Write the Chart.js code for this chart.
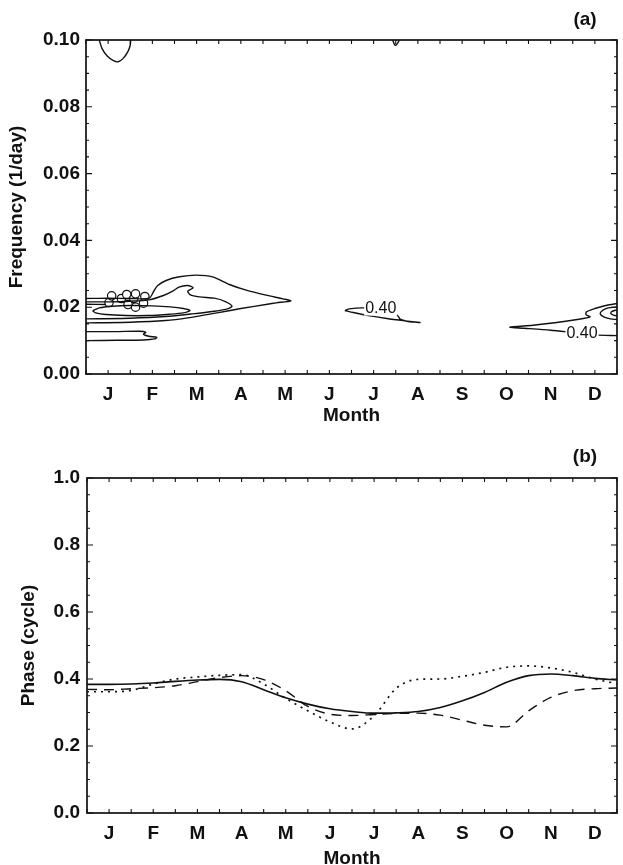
<!DOCTYPE html>
<html>
<head>
<meta charset="utf-8">
<script src="https://cdn.jsdelivr.net/npm/chart.js@4.4.1/dist/chart.umd.min.js"></script>
<style>
  html, body { margin: 0; padding: 0; background: #fff; overflow: hidden; }
  .wrap { position: absolute; left: 0; width: 626px; }
  #wrapA { top: 0; height: 432px; }
  #wrapB { top: 432px; height: 433px; }
</style>
</head>
<body>
<div class="wrap" id="wrapA"><canvas id="chartA" width="626" height="432"></canvas></div>
<div class="wrap" id="wrapB"><canvas id="chartB" width="626" height="433"></canvas></div>
<script>
// Month letters, labelled at mid-month
const monthLetters = ["J", "F", "M", "A", "M", "J", "J", "A", "S", "O", "N", "D"];

// Panel (a): contour lines, [month, frequency]
const topLoopJan = [[0.30, 0.100], [0.36, 0.0975], [0.48, 0.0952], [0.62, 0.0938], [0.73, 0.0935], [0.84, 0.0945], [0.95, 0.0966], [1.0, 0.0985], [1.01, 0.100]];
const topNotchJul = [[6.93, 0.100], [6.97, 0.0987], [7.0, 0.0984], [7.05, 0.0992], [7.08, 0.100]];
const outerWinter = [[0, 0.0226], [0.5, 0.0227], [1.0, 0.0226], [1.43, 0.0227], [1.54, 0.0250], [1.62, 0.0265], [1.81, 0.0280], [2.11, 0.0291], [2.49, 0.0296], [2.86, 0.0291], [3.24, 0.0268], [3.62, 0.0251], [4.07, 0.0236], [4.45, 0.0225], [4.63, 0.0219], [4.3, 0.0213], [4.1, 0.0209], [3.5, 0.0196], [2.96, 0.0183], [2.3, 0.0168], [1.8, 0.0160], [1.0, 0.0155], [0, 0.0153]];
const midWinter = [[0, 0.0216], [0.5, 0.0216], [1.0, 0.0218], [1.43, 0.0222], [1.75, 0.0235], [1.96, 0.0248], [2.1, 0.0260], [2.3, 0.0265], [2.42, 0.0258], [2.3, 0.0248], [2.35, 0.0238], [2.56, 0.0231], [2.9, 0.0227], [3.15, 0.0217], [3.3, 0.0203], [3.2, 0.0195], [2.9, 0.0188], [2.4, 0.0180], [1.8, 0.0172], [1.0, 0.0167], [0, 0.0165]];
const innerStub = [[0, 0.0209], [0.45, 0.0208]];
const coreEllipse = [[0.15, 0.0189], [0.3, 0.0198], [0.6, 0.0203], [1.0, 0.0205], [1.5, 0.0204], [1.9, 0.0201], [2.2, 0.0196], [2.35, 0.0190], [2.2, 0.0183], [1.9, 0.0179], [1.4, 0.0175], [0.9, 0.0175], [0.45, 0.0178], [0.22, 0.0183], [0.15, 0.0189]];
const lowTongue = [[0, 0.0127], [0.7, 0.0127], [1.2, 0.0128], [1.35, 0.0125], [1.3, 0.0119], [1.42, 0.0113], [1.6, 0.0110], [1.55, 0.0105], [1.3, 0.0102], [0.7, 0.0101], [0, 0.0100]];
const midSummer = [[5.85, 0.0190], [5.95, 0.0195], [6.27, 0.0198], [6.6, 0.0192], [7.0, 0.0180], [7.06, 0.0172], [7.1, 0.0164], [7.25, 0.0158], [7.55, 0.0154], [7.22, 0.0159], [6.8, 0.0166], [6.42, 0.0174], [6.04, 0.0184], [5.85, 0.0190]];
const rightOuter = [[12, 0.0211], [11.77, 0.0206], [11.5, 0.0196], [11.31, 0.0186], [11.3, 0.0178], [11.39, 0.0171], [11.1, 0.0163], [10.64, 0.0154], [10.1, 0.0146], [9.58, 0.0140], [9.9, 0.0137], [10.5, 0.0131], [11.0, 0.0124], [11.5, 0.0117], [12, 0.0115]];
const rightMid = [[12, 0.0201], [11.8, 0.0198], [11.68, 0.0191], [11.62, 0.0181], [11.7, 0.0171], [11.85, 0.0165], [12, 0.0163]];
const rightInner = [[12, 0.0192], [11.88, 0.0187], [11.86, 0.0181], [11.92, 0.0176], [12, 0.0174]];
const smallCells = [[0.52, 0.0214], [0.58, 0.0234], [0.8, 0.0226], [0.92, 0.0238], [1.08, 0.0226], [1.12, 0.0240], [1.33, 0.0232], [1.3, 0.0212], [0.95, 0.0208], [1.12, 0.0200]];
const contourLabels = [[6.66, 0.0196, "0.40"], [11.21, 0.0122, "0.40"]];

// Panel (b): phase curves at half-month steps
const halfMonths = [0, 0.5, 1, 1.5, 2, 2.5, 3, 3.5, 4, 4.5, 5, 5.5, 6, 6.5, 7, 7.5, 8, 8.5, 9, 9.5, 10, 10.5, 11, 11.5, 12];
const phaseSolid = [0.384, 0.384, 0.385, 0.388, 0.393, 0.397, 0.399, 0.392, 0.368, 0.344, 0.325, 0.311, 0.303, 0.298, 0.299, 0.303, 0.315, 0.335, 0.360, 0.390, 0.410, 0.415, 0.410, 0.402, 0.397];
const phaseDashed = [0.369, 0.368, 0.371, 0.374, 0.380, 0.392, 0.404, 0.410, 0.398, 0.365, 0.318, 0.295, 0.291, 0.294, 0.297, 0.298, 0.292, 0.277, 0.262, 0.257, 0.305, 0.345, 0.365, 0.371, 0.373];
const phaseDotted = [0.362, 0.362, 0.366, 0.385, 0.400, 0.406, 0.411, 0.413, 0.385, 0.342, 0.305, 0.272, 0.251, 0.290, 0.372, 0.399, 0.400, 0.408, 0.420, 0.435, 0.439, 0.433, 0.420, 0.400, 0.386];

const ink = "#111";
const family = "'Liberation Sans', Arial, Helvetica, sans-serif";

function near(v, step) {
  return Math.abs(v / step - Math.round(v / step)) < 1e-6;
}

const toXY = (pairs) => pairs.map(p => ({ x: p[0], y: p[1] }));

// box around the plot, inward ticks on all four sides, panel tag and contour labels
const framePlugin = {
  id: "frame",
  afterDraw(chart, args, opts) {
    const { ctx, chartArea: a, scales: { x, y } } = chart;
    ctx.save();
    ctx.strokeStyle = ink;
    ctx.lineWidth = 1.7;
    ctx.strokeRect(a.left, a.top, a.right - a.left, a.bottom - a.top);
    ctx.lineWidth = 1.1;
    ctx.beginPath();
    x.ticks.forEach(t => {
      const px = x.getPixelForValue(t.value);
      ctx.moveTo(px, a.bottom); ctx.lineTo(px, a.bottom - 4);
      ctx.moveTo(px, a.top); ctx.lineTo(px, a.top + 4);
    });
    y.ticks.forEach(t => {
      const py = y.getPixelForValue(t.value);
      const len = near(t.value, opts.major) ? 6 : 3;
      ctx.moveTo(a.left, py); ctx.lineTo(a.left + len, py);
      ctx.moveTo(a.right, py); ctx.lineTo(a.right - len, py);
    });
    ctx.stroke();
    ctx.fillStyle = ink;
    ctx.font = "bold 19px " + family;
    ctx.textAlign = "center";
    ctx.textBaseline = "middle";
    ctx.fillText(opts.tag, opts.tagX, opts.tagY);
    (opts.labels || []).forEach(l => {
      const px = x.getPixelForValue(l[0]);
      const py = y.getPixelForValue(l[1]);
      ctx.font = "16px " + family;
      const w = ctx.measureText(l[2]).width;
      ctx.fillStyle = "#fff";
      ctx.fillRect(px - w / 2 - 1, py - 7, w + 2, 14);
      ctx.fillStyle = ink;
      ctx.fillText(l[2], px, py);
    });
    ctx.restore();
  }
};

function monthAxis(bottomSpace, labelPad, titlePad) {
  return {
    type: "linear", min: 0, max: 12,
    afterFit: s => { s.height = bottomSpace; },
    grid: { display: false, drawTicks: false },
    border: { display: false },
    ticks: {
      stepSize: 0.5, autoSkip: false, maxRotation: 0, padding: labelPad,
      color: ink, font: { family: family, size: 19, weight: "bold" },
      callback: v => near(v - 0.5, 1) ? monthLetters[Math.floor(v)] : ""
    },
    title: { display: true, text: "Month", color: ink, font: { family: family, size: 19, weight: "bold", lineHeight: 1 }, padding: { top: 0, bottom: titlePad } }
  };
}

function valueAxis(min, max, step, major, digits, width, labelPad, title, titlePad) {
  return {
    type: "linear", min: min, max: max,
    afterFit: s => { s.width = width; },
    grid: { display: false, drawTicks: false },
    border: { display: false },
    ticks: {
      stepSize: step, autoSkip: false, padding: labelPad,
      color: ink, font: { family: family, size: 19, weight: "bold" },
      callback: v => near(v, major) ? v.toFixed(digits) : ""
    },
    title: { display: true, text: title, color: ink, font: { family: family, size: 19, weight: "bold", lineHeight: 1 }, padding: { top: titlePad, bottom: 0 } }
  };
}

const contourLine = (pairs) => ({
  data: toXY(pairs), showLine: true, borderColor: ink, borderWidth: 1.4,
  pointRadius: 0, tension: 0.25, fill: false
});

new Chart(document.getElementById("chartA"), {
  type: "scatter",
  data: {
    datasets: [
      contourLine(topLoopJan),
      contourLine(topNotchJul),
      contourLine(outerWinter),
      contourLine(midWinter),
      contourLine(innerStub),
      contourLine(coreEllipse),
      contourLine(lowTongue),
      contourLine(midSummer),
      contourLine(rightOuter),
      contourLine(rightMid),
      contourLine(rightInner),
      {
        data: toXY(smallCells), showLine: false, pointRadius: 4.2, pointStyle: "circle",
        pointBackgroundColor: "#fff", pointBorderColor: ink, pointBorderWidth: 1.2
      }
    ]
  },
  options: {
    responsive: false, animation: false,
    layout: { padding: { top: 40, right: 0, bottom: 0, left: 0 } },
    plugins: {
      legend: { display: false }, tooltip: { enabled: false },
      frame: { major: 0.02, tag: "(a)", tagX: 585, tagY: 20, labels: contourLabels }
    },
    scales: {
      x: monthAxis(58, 9, 7),
      y: valueAxis(0, 0.1, 0.005, 0.02, 2, 86, 6, "Frequency (1/day)", 7)
    }
  },
  plugins: [framePlugin]
});

const phaseLine = (values, dash, width) => ({
  data: halfMonths.map((m, i) => ({ x: m, y: values[i] })),
  borderColor: ink, borderWidth: width, borderDash: dash,
  pointRadius: 0, cubicInterpolationMode: "monotone", fill: false
});

new Chart(document.getElementById("chartB"), {
  type: "line",
  data: {
    datasets: [
      phaseLine(phaseSolid, [], 1.6),
      phaseLine(phaseDashed, [10, 7], 1.4),
      phaseLine(phaseDotted, [2, 5], 1.7)
    ]
  },
  options: {
    responsive: false, animation: false,
    layout: { padding: { top: 46, right: 0, bottom: 0, left: 0 } },
    plugins: {
      legend: { display: false }, tooltip: { enabled: false },
      frame: { major: 0.2, tag: "(b)", tagX: 585, tagY: 25 }
    },
    scales: {
      x: monthAxis(52, 9, -3),
      y: valueAxis(0, 1, 0.05, 0.2, 1, 87, 7, "Phase (cycle)", 19)
    }
  },
  plugins: [framePlugin]
});
</script>
</body>
</html>
